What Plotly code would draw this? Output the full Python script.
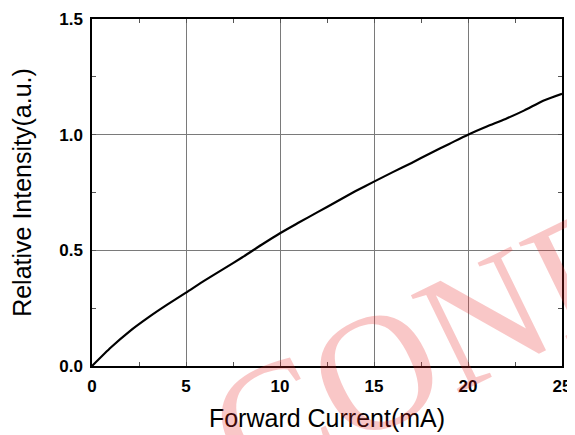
import plotly.graph_objects as go

current_ma = [0, 1, 2, 3, 4, 5, 6, 7, 8, 9, 10, 11, 12, 13, 14, 15, 16, 17, 18, 19, 20, 21, 22, 23, 24, 25]
rel_intensity = [0.0, 0.08, 0.15, 0.21, 0.265, 0.317, 0.37, 0.42, 0.47, 0.523, 0.574, 0.62, 0.665, 0.71,
                 0.755, 0.797, 0.838, 0.878, 0.92, 0.96, 1.0, 1.035, 1.068, 1.105, 1.147, 1.177]
x_ticks = [0, 5, 10, 15, 20, 25]
y_ticks = [0.0, 0.5, 1.0, 1.5]
y_tick_text = ["0.0", "0.5", "1.0", "1.5"]

fig = go.Figure()
fig.add_trace(go.Scatter(x=current_ma, y=rel_intensity, mode="lines",
                         line=dict(color="black", width=2.2, shape="spline", smoothing=0.6),
                         showlegend=False, hoverinfo="skip"))

fig.add_annotation(text="CONF", xref="paper", yref="paper", x=0.70, y=0.05,
                   xanchor="center", yanchor="middle",
                   showarrow=False, textangle=-26,
                   font=dict(family="Liberation Serif", size=166, color="rgba(232,40,40,0.26)"))

axis_common = dict(showgrid=True, gridcolor="#7a7a7a", gridwidth=1, automargin=False,
                   showline=True, linecolor="black", linewidth=1.5, mirror="all",
                   ticks="inside", ticklen=4, tickcolor="#555", zeroline=False,
                   tickfont=dict(family="Liberation Sans", size=17, color="black", weight="bold"))

fig.update_xaxes(range=[0, 25], tickvals=x_ticks, ticktext=[str(v) for v in x_ticks],
                 minor=dict(dtick=2.5, tick0=0, ticks="inside", ticklen=4, tickcolor="#555", showgrid=False),
                 title=dict(text="Forward Current(mA)", standoff=14,
                            font=dict(family="Liberation Sans", size=25, color="black")),
                 ticklabelstandoff=4, **axis_common)
fig.update_yaxes(range=[0, 1.5], tickvals=y_ticks, ticktext=y_tick_text,
                 minor=dict(dtick=0.25, tick0=0, ticks="inside", ticklen=4, tickcolor="#555", showgrid=False),
                 title=dict(text="Relative Intensity(a.u.)", standoff=20,
                            font=dict(family="Liberation Sans", size=25, color="black")),
                 ticklabelstandoff=4, **axis_common)

fig.update_layout(width=567, height=427, paper_bgcolor="white", plot_bgcolor="white",
                  margin=dict(l=84, r=13, t=11, b=69), showlegend=False)

fig.write_html("out.html")
